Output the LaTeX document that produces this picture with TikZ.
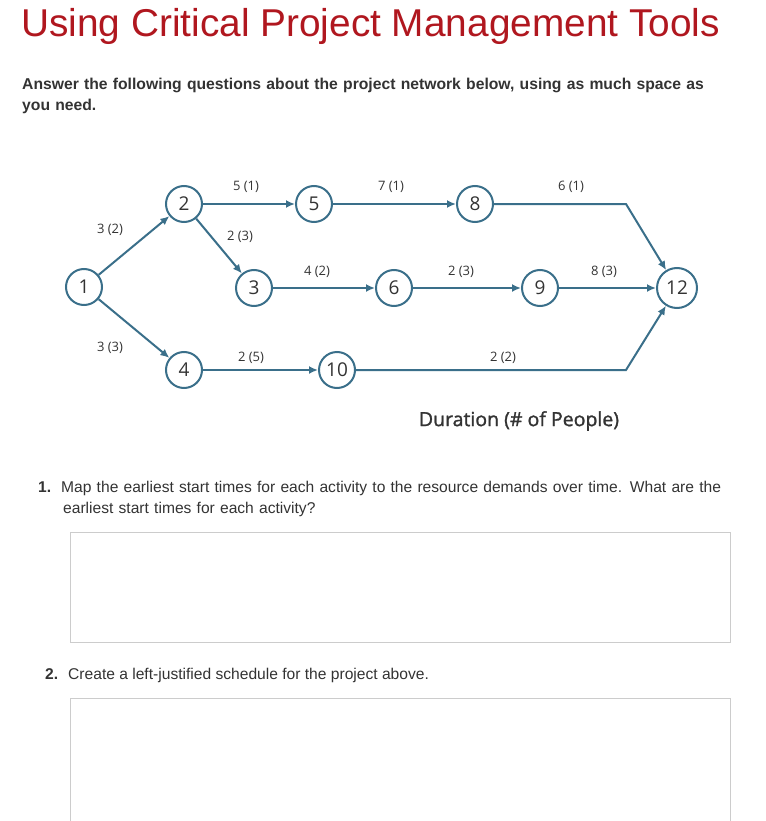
\documentclass[tikz,border=0pt]{standalone}
\usepackage{fontspec}
\usetikzlibrary{arrows.meta}
\setmainfont{Liberation Sans}
\newfontfamily\netfont{Open Sans}
\newfontfamily\durfont[FakeBold=1.3]{Open Sans}
\definecolor{titlered}{HTML}{B0171F}
\definecolor{netblue}{HTML}{3A6F8A}
\definecolor{txt}{HTML}{333333}
\begin{document}
\begin{tikzpicture}[x=1pt,y=-1pt,
  ev/.style={circle,draw=netblue,line width=2pt,minimum size=36pt,inner sep=0pt,font=\netfont\fontsize{19}{19}\selectfont,text=txt},
  act/.style={draw=netblue,line width=2pt,-{Latex[length=9pt,width=8pt]}},
  lab/.style={font=\netfont\fontsize{13}{13}\selectfont,text=txt},
  ansbox/.style={draw=black!20,line width=0.8pt}]
\useasboundingbox (0,0) rectangle (765,821);
\node[anchor=base west,text=titlered,font=\fontsize{38.8}{38.8}\selectfont,inner sep=0pt] (title) at (21,37) {Using Critical Project Management Tools};
\node[anchor=north west,text=txt,font=\bfseries\fontsize{15.7}{21}\selectfont,inner sep=0pt,text width=720pt,align=left] (intro) at (22,78) {Answer the following questions about the project network below, using as much space as\\you need.};
% nodes
\node[ev] (n1) at (84,287) {1};
\node[ev] (n2) at (184,204) {2};
\node[ev] (n5) at (314,204) {5};
\node[ev] (n8) at (475,204) {8};
\node[ev] (n3) at (254,288) {3};
\node[ev] (n6) at (394,288) {6};
\node[ev] (n9) at (540,288) {9};
\node[ev,minimum size=40pt] (n12) at (677,288) {12};
\node[ev] (n4) at (184,370) {4};
\node[ev] (n10) at (337,370) {10};
\coordinate (b1) at (626,204);
\coordinate (b2) at (626,370);
\draw[act] (n1) -- (n2);
\draw[act] (n1) -- (n4);
\draw[act] (n2) -- (n5);
\draw[act] (n2) -- (n3);
\draw[act] (n5) -- (n8);
\draw[act] (n3) -- (n6);
\draw[act] (n6) -- (n9);
\draw[act] (n9) -- (n12);
\draw[act] (n4) -- (n10);
\draw[act] (n8.east) -- (b1) -- (n12);
\draw[act] (n10.east) -- (b2) -- (n12);
\node[lab] (l1) at (110,230) {3 (2)};
\node[lab] (l2) at (110,348) {3 (3)};
\node[lab] (l3) at (246,187) {5 (1)};
\node[lab] (l4) at (240,237) {2 (3)};
\node[lab] (l5) at (391,187) {7 (1)};
\node[lab] (l6) at (571,187) {6 (1)};
\node[lab] (l7) at (317,272) {4 (2)};
\node[lab] (l8) at (461,272) {2 (3)};
\node[lab] (l9) at (604,272) {8 (3)};
\node[lab] (l10) at (251,358) {2 (5)};
\node[lab] (l11) at (503,358) {2 (2)};
\node[font=\durfont\fontsize{19.5}{19.5}\selectfont,text=txt] (dur) at (519,421) {Duration (\# of People)};
\node[anchor=north west,text=txt,font=\fontsize{15.6}{21}\selectfont,inner sep=0pt,text width=715pt,align=left] (q1) at (38,481) {\textbf{1.}\hspace{10pt}Map the earliest start times for each activity to the resource demands over time. What are the\\\hspace{25pt}earliest start times for each activity?};
\draw[ansbox] (70,532) rectangle (730,642);
\node[anchor=north west,text=txt,font=\fontsize{15.6}{21}\selectfont,inner sep=0pt] (q2) at (45,668) {\textbf{2.}\hspace{10pt}Create a left-justified schedule for the project above.};
\draw[ansbox] (70,830) -- (70,698) -- (730,698) -- (730,830);
\end{tikzpicture}
\end{document}
